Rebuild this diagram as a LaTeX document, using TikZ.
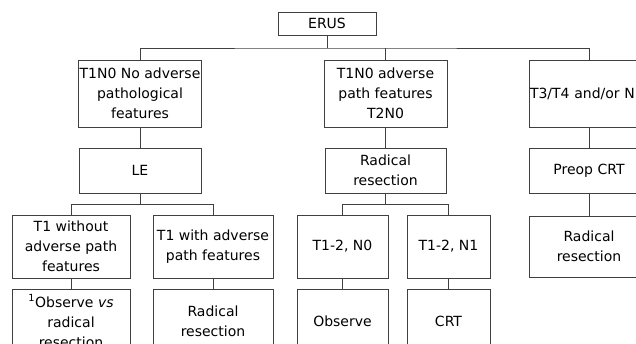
\documentclass[tikz,border=0pt]{standalone}
\usepackage{fontspec}
\setmainfont{DejaVu Sans}
\usepackage{tikz}
\usetikzlibrary{positioning}

\begin{document}
\begin{tikzpicture}[x=1pt, y=-1pt, line width=0.9pt,
    box/.style={rectangle, draw=black!75, fill=white, align=center, inner sep=1pt,
      font=\fontsize{14}{20}\selectfont},
    link/.style={draw=black!75}]
    \useasboundingbox (0,0) rectangle (636,344);
    \clip (0,0) rectangle (636,344);

    \node[box, minimum width=98, minimum height=23] (erus) at (327,23.5) {ERUS};

    \node[box, minimum width=122, minimum height=67] (nopath) at (140,93.5) {T1N0 No adverse\\pathological\\features};
    \node[box, minimum width=123, minimum height=67] (adpath) at (385.5,93.5) {T1N0 adverse\\path features\\T2N0};
    \node[box, minimum width=120, minimum height=67, text width=118, align=left] (adv) at (589,93.5) {T3/T4 and/or N};

    \node[box, minimum width=122, minimum height=45] (le) at (140,170.5) {LE};
    \node[box, minimum width=121, minimum height=45] (radres) at (385.5,170.5) {Radical\\resection};
    \node[box, minimum width=120, minimum height=45] (preop) at (589,170.5) {Preop CRT};

    \node[box, minimum width=118, minimum height=63] (without) at (71,246.5) {T1 without\\adverse path\\features};
    \node[box, minimum width=120, minimum height=63] (with) at (213,246.5) {T1 with adverse\\path features};
    \node[box, minimum width=91, minimum height=63] (nzero) at (342.5,246.5) {T1-2, N0};
    \node[box, minimum width=83, minimum height=63] (none) at (448.5,246.5) {T1-2, N1};
    \node[box, minimum width=120, minimum height=61] (radresC) at (589,246.5) {Radical\\resection};

    \node[box, minimum width=118, minimum height=64] (obsvs) at (71,321) {\textsuperscript{1}Observe \textit{vs}\\radical\\resection};
    \node[box, minimum width=120, minimum height=64] (radresA) at (213,321) {Radical\\resection};
    \node[box, minimum width=91, minimum height=64] (obs) at (342.5,321) {Observe};
    \node[box, minimum width=83, minimum height=64] (crt) at (448.5,321) {CRT};

    \coordinate (top) at (327,48);
    \draw[link] (erus) -- (top);
    \draw[link] (nopath.north) |- (top) -| (adv.north);
    \draw[link] (adpath.north) -- (adpath.north |- top);

    \draw[link] (nopath) -- (le);
    \draw[link] (adpath) -- (radres);
    \draw[link] (adv) -- (preop);
    \draw[link] (preop) -- (radresC);

    \draw[link] (le.south) -- ++(0,11) coordinate (leJ);
    \draw[link] (without.north) |- (leJ) -| (with.north);
    \draw[link] (radres.south) -- ++(0,11) coordinate (rrJ);
    \draw[link] (nzero.north) |- (rrJ) -| (none.north);

    \draw[link] (without) -- (obsvs);
    \draw[link] (with) -- (radresA);
    \draw[link] (nzero) -- (obs);
    \draw[link] (none) -- (crt);
\end{tikzpicture}
\end{document}
